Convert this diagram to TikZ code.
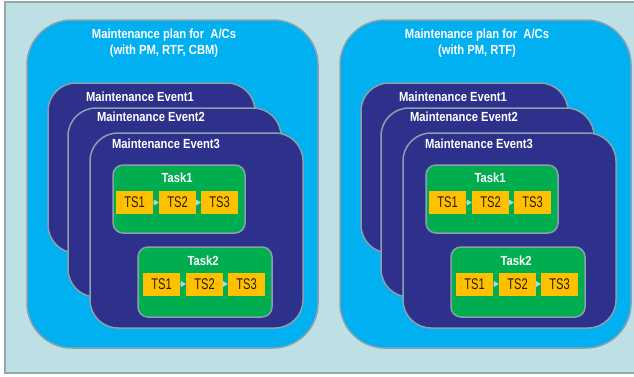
\documentclass[tikz,border=0pt]{standalone}
\usepackage{fontspec}
\setmainfont{Liberation Sans}
\newfontfamily\labfont[FakeStretch=0.85]{Liberation Sans}
\newfontfamily\tsfont[FakeStretch=0.72]{Liberation Sans}
\usetikzlibrary{arrows.meta}
\definecolor{bgc}{RGB}{188,224,228}
\definecolor{outerc}{RGB}{150,165,170}
\definecolor{bordc}{RGB}{140,160,172}
\definecolor{planc}{RGB}{0,176,240}
\definecolor{navyc}{RGB}{46,49,140}
\definecolor{greenc}{RGB}{0,174,80}
\definecolor{orangec}{RGB}{255,192,0}
\definecolor{tstext}{RGB}{45,30,10}
\definecolor{arrc}{RGB}{175,215,225}
\begin{document}
\begin{tikzpicture}[x=1pt,y=-1pt,
  planbox/.style={draw=bordc, line width=1.5pt, fill=planc, rounded corners=45pt,
    minimum width=291pt, minimum height=328pt, inner sep=0pt},
  eventbox/.style={draw=bordc, line width=1.5pt, fill=navyc, rounded corners=28pt, inner sep=0pt},
  taskbox/.style={draw=bordc, line width=1.5pt, fill=greenc, rounded corners=10pt, inner sep=0pt},
  tsbox/.style={fill=orangec, minimum width=37pt, minimum height=23pt, inner sep=0pt,
    font=\tsfont\fontsize{15.5}{17}\selectfont, text=tstext},
  lab/.style={anchor=base, text=white, inner sep=0pt,
    font=\labfont\bfseries\fontsize{13.2}{15}\selectfont},
  tsarrow/.style={draw=arrc, line width=0.5pt, -{Triangle[length=5pt,width=6pt]}}
]
\useasboundingbox (0,0) rectangle (634,376);
\fill[white] (0,0) rectangle (634,376);
\draw[fill=bgc, draw=outerc, line width=1.5pt] (5,2) rectangle (650,373);
\foreach \o/\s/\t in {0/L/{(with PM, RTF, CBM)}, 313/R/{(with PM, RTF)}}{
  \node[planbox] (plan\s) at (172.5+\o,184) {};
  \node[lab] (title\s a) at (164+\o,38) {Maintenance plan for\ \ A/Cs};
  \node[lab] (title\s b) at (164+\o,54) {\t};
  \node[eventbox, minimum width=207pt, minimum height=170pt] (evA\s) at (151.5+\o,168) {};
  \node[lab] (evAlab\s) at (140+\o,101) {Maintenance Event1};
  \node[eventbox, minimum width=213pt, minimum height=189pt] (evB\s) at (174.5+\o,202.5) {};
  \node[lab] (evBlab\s) at (151+\o,121) {Maintenance Event2};
  \node[eventbox, minimum width=213pt, minimum height=195pt] (evC\s) at (196.5+\o,230.5) {};
  \node[lab] (evClab\s) at (166+\o,148) {Maintenance Event3};
  % Task1
  \node[taskbox, minimum width=132pt, minimum height=68pt] (taskA\s) at (179+\o,199) {};
  \node[lab] (taskAlab\s) at (177+\o,182) {Task1};
  \node[tsbox] (a1\s) at (134.5+\o,202.5) {TS1};
  \node[tsbox] (a2\s) at (177.5+\o,202.5) {TS2};
  \node[tsbox] (a3\s) at (219.5+\o,202.5) {TS3};
  \draw[tsarrow] (a1\s.east) -- (a2\s.west);
  \draw[tsarrow] (a2\s.east) -- (a3\s.west);
  % Task2
  \node[taskbox, minimum width=134pt, minimum height=70pt] (taskB\s) at (205+\o,282) {};
  \node[lab] (taskBlab\s) at (203+\o,265) {Task2};
  \node[tsbox] (b1\s) at (161.5+\o,284) {TS1};
  \node[tsbox] (b2\s) at (204.5+\o,284) {TS2};
  \node[tsbox] (b3\s) at (246.5+\o,284) {TS3};
  \draw[tsarrow] (b1\s.east) -- (b2\s.west);
  \draw[tsarrow] (b2\s.east) -- (b3\s.west);
}
\end{tikzpicture}
\end{document}
